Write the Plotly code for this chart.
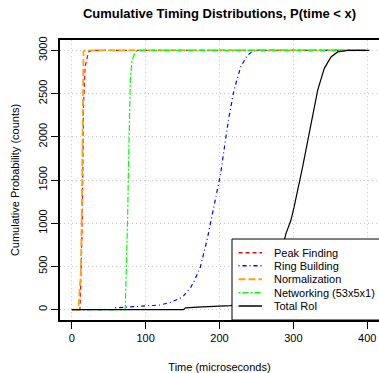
import plotly.graph_objects as go

# ---------------- data ----------------
peak_x = [0, 11, 11.3, 13.6, 14.9, 15.8, 18, 22.6, 27, 400]
peak_y = [0, 0, 66, 800, 1572, 2344, 2808, 2982, 3000, 3000]

ring_x = [0, 56, 58.8, 74.7, 102, 120, 133.6, 144.8, 151.6, 161, 165, 174, 183, 192.4,
          201.5, 208, 212.8, 219.6, 228.7, 237.8, 245, 250, 400]
ring_y = [0, 0, 20, 27, 38, 54, 85, 124, 162, 258, 317, 490, 800, 1185,
          1572, 1958, 2228, 2538, 2808, 2943, 2990, 3000, 3000]

norm_x = [0, 8.5, 9, 12.2, 13.6, 14.4, 14.9, 15.8, 17, 400]
norm_y = [0, 0, 27, 413, 1185, 1958, 2730, 2982, 3000, 3000]

net_x = [0, 72, 72.4, 73.8, 75.6, 77, 78.3, 79.2, 81.5, 86, 90, 400]
net_y = [0, 0, 27, 413, 1070, 1765, 2344, 2653, 2885, 2982, 3000, 3000]

roi_x = [0, 151, 154, 170, 215, 228.7, 237.8, 251, 260, 269, 276, 280.7, 285.3, 290,
         296.6, 301, 312.5, 323.8, 332.9, 341.8, 351, 360, 374, 403]
roi_y = [0, 0, 20, 30, 46, 73, 93, 112, 162, 240, 374, 530, 722, 880,
         1031, 1185, 1649, 2152, 2538, 2789, 2924, 2982, 3000, 3000]

names = ["Peak Finding", "Ring Building", "Normalization", "Networking (53x5x1)", "Total RoI"]
xs = [peak_x, ring_x, norm_x, net_x, roi_x]
ys = [peak_y, ring_y, norm_y, net_y, roi_y]

x_ticks = [0, 100, 200, 300, 400]
y_ticks = [0, 500, 1000, 1500, 2000, 2500, 3000]

title_text = "Cumulative Timing Distributions, P(time < x)"
x_title = "Time (microseconds)"
y_title = "Cumulative Probability (counts)"

# ---------------- styles ----------------
colors = ["#FF0000", "#0000FF", "#FFA500", "#00FF00", "#000000"]
dashes = ["4px,3px", "1px,3px,4px,3px", "7px,3px", "2px,2px,6px,2px", "solid"]
widths = [1.2, 1.2, 1.8, 1.2, 1.2]
FONT = "Liberation Sans, Arial, Helvetica, sans-serif"

W, H = 379, 373
ML, MR, MT, MB = 60, 0, 40, 53

fig = go.Figure()
for x, y, n, c, d, w in zip(xs, ys, names, colors, dashes, widths):
    fig.add_trace(go.Scatter(x=x, y=y, mode="lines", name=n, showlegend=False,
                             line=dict(color=c, dash=d, width=w)))

# ---------------- manual legend (R style) ----------------
pw = W - ML - MR
ph = H - MT - MB


def px2x(px):
    return (px - ML) / pw


def py2y(py):
    return (H - MB - py) / ph


shapes = [dict(type="rect", xref="paper", yref="paper",
               x0=px2x(232), x1=px2x(395), y0=py2y(320), y1=py2y(239),
               fillcolor="white", line=dict(color="black", width=1), layer="above")]
annotations = []
row_y = [252.7, 265.7, 279.3, 292.7, 306]
for n, c, d, w, ry in zip(names, colors, dashes, widths, row_y):
    shapes.append(dict(type="line", xref="paper", yref="paper",
                       x0=px2x(238.5), x1=px2x(262), y0=py2y(ry), y1=py2y(ry),
                       line=dict(color=c, dash=d, width=w + 0.3), layer="above"))
    annotations.append(dict(text=n, xref="paper", yref="paper", x=px2x(272), y=py2y(ry),
                            xanchor="left", yanchor="middle", showarrow=False,
                            font=dict(family=FONT, size=11, color="black")))

grid_dash = "1px,3px"

fig.update_layout(
    width=W, height=H,
    margin=dict(l=ML, r=MR, t=MT, b=MB, pad=0),
    paper_bgcolor="white", plot_bgcolor="white",
    font=dict(family=FONT, size=11, color="black"),
    title=dict(text=title_text, x=219.5 / W, y=1 - 13 / H, xref="container", yref="container",
               xanchor="center", yanchor="middle",
               font=dict(family=FONT, size=13, color="black", weight="bold")),
    shapes=shapes,
    annotations=annotations,
    xaxis=dict(range=[-16, 416], tickvals=x_ticks, ticks="outside", ticklen=7, tickwidth=1,
               tickcolor="black", showline=True, mirror=True, linecolor="black", linewidth=1.5,
               showgrid=True, gridcolor="#C8C8C8", griddash=grid_dash, gridwidth=1, zeroline=False,
               tickfont=dict(family=FONT, size=11, color="black"),
               title=dict(text=x_title, standoff=22, font=dict(family=FONT, size=11, color="black")),
               automargin=False),
    yaxis=dict(range=[-120, 3120], tickvals=y_ticks, ticks="outside", ticklen=7, tickwidth=1,
               tickcolor="black", showline=True, mirror=False, linecolor="black", linewidth=1.5,
               showgrid=True, gridcolor="#C8C8C8", griddash=grid_dash, gridwidth=1, zeroline=False,
               tickangle=-90,
               tickfont=dict(family=FONT, size=11, color="black"),
               title=dict(text=y_title, standoff=15, font=dict(family=FONT, size=11, color="black")),
               automargin=False),
)

fig.write_html("out.html")
